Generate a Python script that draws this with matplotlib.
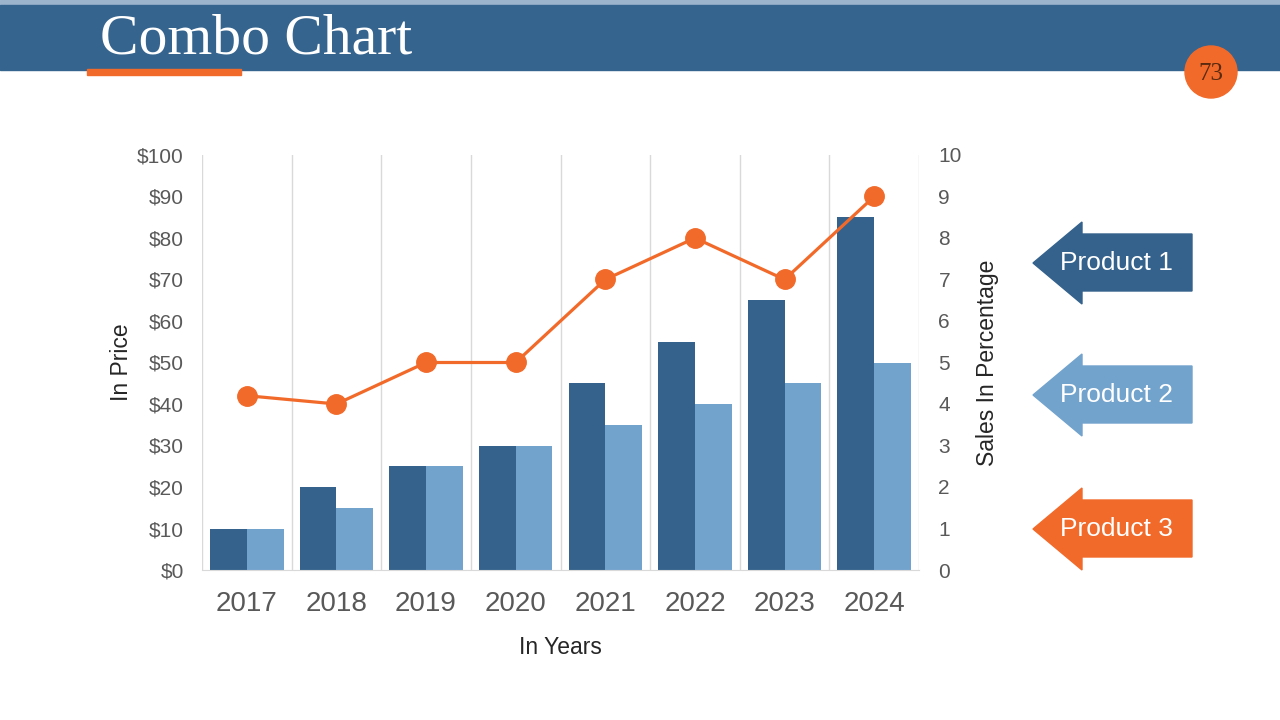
import numpy as np
import matplotlib.pyplot as plt
from matplotlib.patches import Polygon, Rectangle, Circle

years = ['2017', '2018', '2019', '2020', '2021', '2022', '2023', '2024']
product1 = [10, 20, 25, 30, 45, 55, 65, 85]
product2 = [10, 15, 25, 30, 35, 40, 45, 50]
product3 = [4.2, 4, 5, 5, 7, 8, 7, 9]
legend_names = ['Product 1', 'Product 2', 'Product 3']

dark = '#34628c'
light = '#72a3cd'
orange = '#f26a2a'
grey = '#595959'

plt.rcParams['font.family'] = ['Liberation Sans', 'DejaVu Sans']

fig = plt.figure(figsize=(12.8, 7.2), dpi=100)

# decoration layer in pixel coordinates
deco = fig.add_axes([0, 0, 1, 1])
deco.set_xlim(0, 1280)
deco.set_ylim(720, 0)
deco.axis('off')
deco.add_patch(Rectangle((0, 0), 1280, 5, color='#9db4cd'))
deco.add_patch(Rectangle((0, 5), 1280, 65, color='#35648e'))
deco.add_patch(Rectangle((87, 69), 154, 6, color=orange))
deco.add_patch(Circle((1211, 72), 26, color=orange))
deco.text(100, 40, 'Combo Chart', color='white', fontsize=41.5,
          family='Liberation Serif', va='center', ha='left')
deco.text(1211, 74, '73', color='#5a2a10', fontsize=18,
          family='Liberation Serif', va='center', ha='center')

# arrow labels
arrow_cols = [dark, light, orange]
centers = [263, 395, 529]
for name, col, cy in zip(legend_names, arrow_cols, centers):
    pts = [(1033, cy), (1082, cy - 41), (1082, cy - 29), (1192, cy - 29),
           (1192, cy + 28), (1082, cy + 28), (1082, cy + 41)]
    deco.add_patch(Polygon(pts, closed=True, color=col))
    deco.text(1116, cy, name, color='white', fontsize=19, va='center', ha='center')

ax = fig.add_axes([202 / 1280, 1 - 570 / 720, 717 / 1280, 415 / 720])
x = np.arange(len(years))
w = 0.41
ax.bar(x - w / 2, product1, width=w, color=dark, zorder=2)
ax.bar(x + w / 2, product2, width=w, color=light, zorder=2)
ax.set_xlim(-0.5, len(years) - 0.5)
ax.set_ylim(0, 100)
ax.set_yticks(range(0, 101, 10))
ax.set_yticklabels(['$%d' % v for v in range(0, 101, 10)])
ax.set_xticks(x)
ax.set_xticklabels(years)
ax.set_xticks(np.arange(-0.5, len(years)), minor=True)
ax.grid(which='minor', axis='x', color='#d9d9d9', lw=1)
ax.tick_params(axis='x', which='both', length=0, labelsize=20, labelcolor=grey, pad=15)
ax.tick_params(axis='y', length=0, labelsize=15, labelcolor=grey, pad=13)
for s in ['top', 'left', 'right']:
    ax.spines[s].set_visible(False)
ax.spines['bottom'].set_color('#d9d9d9')
ax.set_xlabel('In Years', fontsize=16.5, color='#262626', labelpad=14)
ax.set_ylabel('In Price', fontsize=16.5, color='#262626', labelpad=3)

ax2 = ax.twinx()
ax2.plot(x, product3, color=orange, lw=2.3, marker='o', markersize=14, zorder=3)
ax2.set_ylim(0, 10)
ax2.set_yticks(range(0, 11))
ax2.tick_params(axis='y', length=0, labelsize=15, labelcolor=grey, pad=14)
for s in ['top', 'left', 'right', 'bottom']:
    ax2.spines[s].set_visible(False)
ax2.set_ylabel('Sales In Percentage', fontsize=16.5, color='#262626', labelpad=10)

fig.savefig('out.png', dpi=100)
